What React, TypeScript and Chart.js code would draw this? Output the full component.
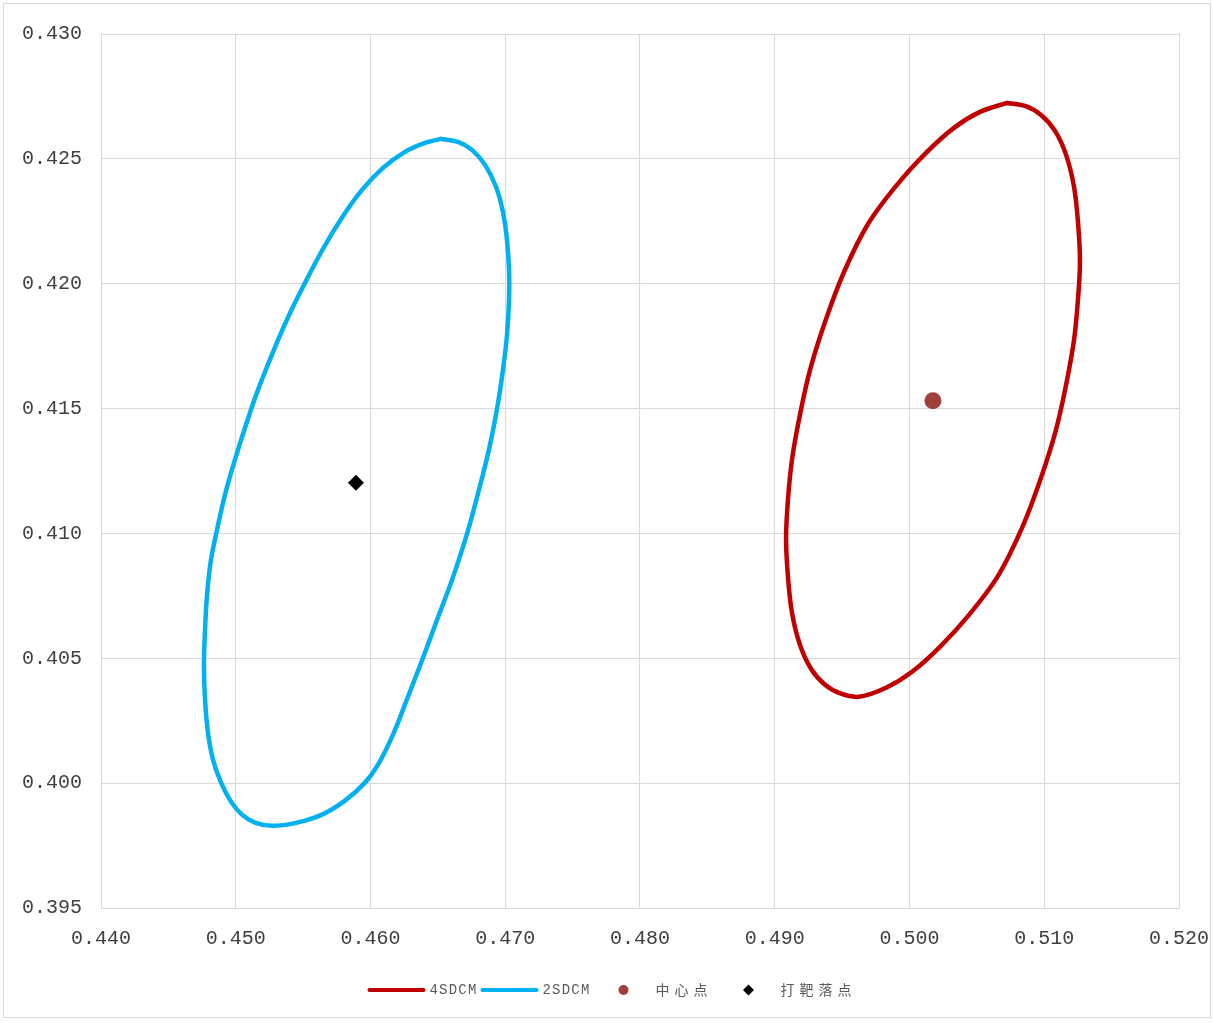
import React, { useEffect, useRef } from "react";
import { Chart, registerables } from "chart.js";

Chart.register(...registerables);

// ---- Data ----
const X_TICKS = [0.44, 0.45, 0.46, 0.47, 0.48, 0.49, 0.5, 0.51, 0.52];
const Y_TICKS = [0.395, 0.4, 0.405, 0.41, 0.415, 0.42, 0.425, 0.43];

const SERIES_NAMES = ["4SDCM", "2SDCM", "中心点", "打靶落点"];

// 4SDCM ellipse outline [x, y]
const ELLIPSE_4SDCM: [number, number][] = [
  [0.50724, 0.42724], [0.50857, 0.42712], [0.50976, 0.42676], [0.5108, 0.42612],
  [0.51162, 0.42516], [0.51221, 0.42388], [0.51251, 0.42243], [0.51265, 0.42087],
  [0.5125, 0.41935], [0.51221, 0.41775], [0.51162, 0.41595], [0.51087, 0.41415],
  [0.50976, 0.41223], [0.50835, 0.41022], [0.50657, 0.4083], [0.50442, 0.40674],
  [0.50226, 0.40546], [0.50019, 0.40446], [0.49826, 0.40382], [0.49625, 0.40346],
  [0.49492, 0.40358], [0.49373, 0.40394], [0.49269, 0.40458], [0.49187, 0.40554],
  [0.49128, 0.40682], [0.49098, 0.40826], [0.49084, 0.40982], [0.49098, 0.41135],
  [0.49128, 0.41295], [0.49187, 0.41475], [0.49262, 0.41655], [0.49373, 0.41847],
  [0.49514, 0.42047], [0.49692, 0.42239], [0.49907, 0.42396], [0.50123, 0.42524],
  [0.5033, 0.42624], [0.50523, 0.42688], [0.50724, 0.42724],
];

// 2SDCM ellipse outline [x, y]
const ELLIPSE_2SDCM: [number, number][] = [
  [0.46523, 0.4258], [0.46649, 0.42568], [0.46753, 0.42536], [0.4685, 0.42476],
  [0.46931, 0.42388], [0.46983, 0.42287], [0.47013, 0.42175], [0.47028, 0.42055],
  [0.47028, 0.41935], [0.47013, 0.41795], [0.46983, 0.41655], [0.46939, 0.41499],
  [0.46879, 0.41335], [0.46805, 0.41175], [0.46716, 0.40998], [0.46605, 0.40814],
  [0.46494, 0.40654], [0.4639, 0.40502], [0.46278, 0.40346], [0.46167, 0.40194],
  [0.46056, 0.40074], [0.45959, 0.40002], [0.45811, 0.3993], [0.4564, 0.39874],
  [0.45455, 0.39842], [0.45269, 0.39829], [0.45143, 0.39842], [0.45046, 0.39874],
  [0.44965, 0.39926], [0.44891, 0.40002], [0.44831, 0.40094], [0.44794, 0.40202],
  [0.44772, 0.40334], [0.44764, 0.40474], [0.44772, 0.40614], [0.44787, 0.40754],
  [0.44816, 0.40894], [0.44861, 0.41014], [0.4492, 0.41155], [0.44994, 0.41295],
  [0.45076, 0.41435], [0.45165, 0.41575], [0.45314, 0.41775], [0.45403, 0.41883],
  [0.45506, 0.41995], [0.45647, 0.42139], [0.45796, 0.42271], [0.45937, 0.42376],
  [0.46093, 0.42464], [0.46256, 0.42528], [0.46404, 0.42564], [0.46523, 0.4258],
];

const CENTER_POINT: [number, number][] = [[0.50174, 0.41531]];
const IMPACT_POINT: [number, number][] = [[0.45892, 0.41203]];

// ---- Styles ----
const RED = "#C00000";
const BLUE = "#00B0F0";
const BROWN = "#A0403C";
const BLACK = "#000000";
const GRID = "#D9D9D9";
const TEXT = "#404040";
const TICK_FONT = { family: "'Liberation Mono', 'DejaVu Sans Mono', monospace", size: 20 };

const toXY = (arr: [number, number][]) => arr.map(([x, y]) => ({ x, y }));

const legendPlugin = {
  id: "excelLegend",
  afterDraw(chart: any) {
    const ctx: CanvasRenderingContext2D = chart.ctx;
    const ds = chart.data.datasets;
    const cy = 986;
    ctx.save();
    const isCJK = (s: string) => /[\u4e00-\u9fff]/.test(s);
    const setFont = (s: string) => {
      if (isCJK(s)) {
        ctx.font = "14px 'Noto Sans CJK SC', sans-serif";
        (ctx as any).letterSpacing = "5px";
      } else {
        ctx.font = "14px 'Liberation Mono', monospace";
        (ctx as any).letterSpacing = "1.2px";
      }
    };
    const items = ds.map((d: any, i: number) => {
      setFont(d.label);
      const tw = ctx.measureText(d.label).width;
      const isLine = d.showLine;
      const symW = isLine ? 58 : 10;
      const gap = isLine ? 4 : 27;
      const before = i === 0 ? 0 : isLine ? 3 : i === 2 ? 28 : 31;
      return { d, tw, isLine, symW, gap, before };
    });
    let total = 0;
    items.forEach((it: any) => {
      total += it.before + it.symW + it.gap + it.tw;
    });
    let x = chart.width / 2 + 5 - total / 2;
    items.forEach((it: any) => {
      const d = it.d;
      x += it.before;
      if (it.isLine) {
        ctx.beginPath();
        ctx.strokeStyle = d.borderColor;
        ctx.lineWidth = 4;
        ctx.lineCap = "round";
        ctx.moveTo(x + 2, cy);
        ctx.lineTo(x + it.symW - 2, cy);
        ctx.stroke();
      } else {
        const c = x + it.symW / 2;
        ctx.fillStyle = d.backgroundColor;
        ctx.beginPath();
        if (d.pointStyle === "rectRot") {
          ctx.moveTo(c, cy - 5.5);
          ctx.lineTo(c + 5.5, cy);
          ctx.lineTo(c, cy + 5.5);
          ctx.lineTo(c - 5.5, cy);
          ctx.closePath();
        } else {
          ctx.arc(c, cy, 5, 0, Math.PI * 2);
        }
        ctx.fill();
      }
      x += it.symW + it.gap;
      setFont(d.label);
      ctx.fillStyle = "#595959";
      ctx.textBaseline = "middle";
      ctx.textAlign = "left";
      ctx.fillText(d.label, x, cy);
      x += it.tw;
    });
    ctx.restore();
  },
};

export default function App() {
  const ref = useRef<HTMLCanvasElement | null>(null);

  useEffect(() => {
    if (!ref.current) return;
    const lineDs = (label: string, pts: [number, number][], color: string) => ({
      label,
      data: toXY(pts),
      showLine: true,
      borderColor: color,
      backgroundColor: color,
      borderWidth: 4.5,
      pointRadius: 0,
      tension: 0.35,
      borderJoinStyle: "round",
      borderCapStyle: "round",
    });
    const chart = new Chart(ref.current, {
      type: "scatter",
      data: {
        datasets: [
          lineDs(SERIES_NAMES[0], ELLIPSE_4SDCM, RED),
          lineDs(SERIES_NAMES[1], ELLIPSE_2SDCM, BLUE),
          {
            label: SERIES_NAMES[2],
            data: toXY(CENTER_POINT),
            showLine: false,
            backgroundColor: BROWN,
            borderColor: BROWN,
            pointRadius: 8.5,
            pointBorderWidth: 0,
            pointStyle: "circle",
          },
          {
            label: SERIES_NAMES[3],
            data: toXY(IMPACT_POINT),
            showLine: false,
            backgroundColor: BLACK,
            borderColor: BLACK,
            pointRadius: 8,
            pointBorderWidth: 0,
            pointStyle: "rectRot",
          },
        ],
      } as any,
      options: {
        animation: false,
        responsive: true,
        maintainAspectRatio: false,
        layout: { padding: { left: 0, top: 30, right: 31, bottom: 0 } },
        plugins: {
          legend: { display: false },
          tooltip: { enabled: false },
        },
        scales: {
          x: {
            type: "linear",
            min: X_TICKS[0],
            max: X_TICKS[X_TICKS.length - 1],
            afterBuildTicks: (s: any) => {
              s.ticks = X_TICKS.map((v) => ({ value: v }));
            },
            afterFit: (s: any) => {
              s.height = 109;
              s.paddingLeft = 0;
              s.paddingRight = 0;
            },
            grid: { color: GRID, lineWidth: 1, drawTicks: false },
            border: { color: GRID, width: 1 },
            ticks: {
              padding: 19,
              color: TEXT,
              font: TICK_FONT,
              maxRotation: 0,
              autoSkip: false,
              callback: (v: any) => Number(v).toFixed(3),
            },
          },
          y: {
            type: "linear",
            min: Y_TICKS[0],
            max: Y_TICKS[Y_TICKS.length - 1],
            afterBuildTicks: (s: any) => {
              s.ticks = Y_TICKS.map((v) => ({ value: v }));
            },
            afterFit: (s: any) => {
              s.width = 97;
              s.paddingTop = 0;
              s.paddingBottom = 0;
            },
            grid: { color: GRID, lineWidth: 1, drawTicks: false },
            border: { color: GRID, width: 1 },
            ticks: {
              padding: 19,
              color: TEXT,
              font: TICK_FONT,
              autoSkip: false,
              callback: (v: any) => Number(v).toFixed(3),
            },
          },
        },
      } as any,
      plugins: [legendPlugin],
    });
    return () => chart.destroy();
  }, []);

  return (
    <div
      style={{
        position: "absolute",
        left: 3,
        top: 3,
        width: 1206,
        height: 1013,
        border: "1px solid #D9D9D9",
        background: "#FFFFFF",
      }}
    >
      <canvas ref={ref} />
    </div>
  );
}
